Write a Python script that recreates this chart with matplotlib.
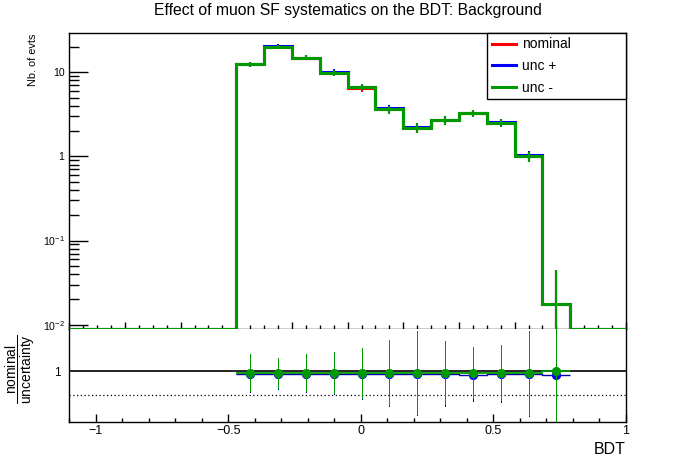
"""Effect of muon SF systematics on the BDT (background), ROOT-like ratio plot."""
import numpy as np
import matplotlib
matplotlib.use('Agg')
import matplotlib.pyplot as plt
from matplotlib.lines import Line2D
from matplotlib.ticker import FixedLocator, NullFormatter, FuncFormatter

plt.rcParams.update({'font.family': ['Liberation Sans', 'DejaVu Sans'],
                     'mathtext.fontset': 'custom',
                     'mathtext.rm': 'Liberation Sans',
                     'mathtext.it': 'Liberation Sans:italic',
                     'axes.linewidth': 1.0})

# binning: 20 bins on [-1.1, 1.0]
bin_lo, bin_hi, n_bins = -1.1, 1.0, 20

# upper panel: event yields per bin
nominal = [0, 0, 0, 0, 0, 0, 12.4, 20.2, 14.9, 9.9, 6.45, 3.62,
           2.19, 2.68, 3.25, 2.51, 1.00, 0.0175, 0, 0]
unc_up = [0, 0, 0, 0, 0, 0, 12.5, 20.5, 15.0, 10.2, 6.7, 3.72,
          2.22, 2.72, 3.28, 2.54, 1.03, 0.0178, 0, 0]
unc_down = [0, 0, 0, 0, 0, 0, 12.4, 20.2, 14.9, 9.9, 6.7, 3.62,
            2.19, 2.68, 3.25, 2.51, 1.00, 0.0175, 0, 0]
stat_err = [0, 0, 0, 0, 0, 0, 0.9, 1.1, 1.0, 0.75, 0.55, 0.38,
            0.30, 0.33, 0.33, 0.26, 0.14, 0.027, 0, 0]

# lower panel: nominal / uncertainty for the 12 filled bins (bins 6..17)
first_bin, last_bin = 6, 17
ratio_up = [0.93, 0.93, 0.93, 0.93, 0.93, 0.93, 0.93, 0.93, 0.91, 0.93, 0.93, 0.91]
ratio_down = [0.965, 0.965, 0.965, 0.965, 0.965, 0.965, 0.965, 0.965, 0.965, 0.965, 0.965, 1.0]
ratio_up_err = [0.37, 0.30, 0.37, 0.41, 0.50, 0.66, 0.84, 0.64, 0.52, 0.56, 0.85, 2.0]
ratio_down_err = [0.38, 0.31, 0.38, 0.42, 0.51, 0.67, 0.85, 0.65, 0.53, 0.57, 0.86, 2.0]

RED, BLUE, GREEN = '#ff0000', '#0000ff', '#009a00'

edges = np.linspace(bin_lo, bin_hi, n_bins + 1)
centers = 0.5 * (edges[:-1] + edges[1:])
YMIN, YMAX = 0.00882, 29.1

W, H = 696, 472
fig = plt.figure(figsize=(W / 100, H / 100), dpi=100)
ax = fig.add_axes([69.3 / W, 1 - 329.3 / H, (626 - 69.3) / W, (329.3 - 33.3) / H])
axr = fig.add_axes([69.3 / W, 1 - 422 / H, (626 - 69.3) / W, (422 - 329.3) / H])

# ---- upper panel
for z, (vals, col) in enumerate([(nominal, RED), (unc_up, BLUE), (unc_down, GREEN)]):
    v = np.array(vals, dtype=float)
    e = np.array(stat_err, dtype=float)
    ax.stairs(np.where(v > 0, v, YMIN), edges, baseline=None, color=col,
              linewidth=2.2, zorder=3 + 2 * z)
    m = v > 0
    ax.vlines(centers[m], np.maximum(v[m] - e[m], YMIN * 0.5), v[m] + e[m],
              color=col, linewidth=1.5, zorder=4 + 2 * z)

ax.set_yscale('log')
ax.set_xlim(bin_lo, bin_hi)
ax.set_ylim(YMIN, YMAX)
ax.xaxis.set_major_locator(FixedLocator(np.arange(bin_lo, bin_hi + 1e-9, 0.21)))
ax.xaxis.set_minor_locator(FixedLocator(np.arange(bin_lo, bin_hi + 1e-9, 0.0525)))
ax.xaxis.set_major_formatter(NullFormatter())
ax.tick_params(axis='x', which='major', direction='in', length=5, width=1)
ax.tick_params(axis='x', which='minor', direction='in', length=2.9, width=1)


def log_label(y, pos):
    if y == 10:
        return '10'
    if y == 1:
        return '1'
    return r'$\mathregular{10^{%d}}$' % round(np.log10(y))


ax.yaxis.set_major_locator(FixedLocator([0.01, 0.1, 1, 10]))
ax.yaxis.set_major_formatter(FuncFormatter(log_label))
ax.yaxis.set_minor_formatter(NullFormatter())
ax.tick_params(axis='y', which='major', direction='in', length=13.7, width=1,
               labelsize=7.6, pad=3.5)
ax.tick_params(axis='y', which='minor', direction='in', length=7.2, width=1)

handles = [Line2D([], [], color=c, lw=2.2) for c in (RED, BLUE, GREEN)]
leg = ax.legend(handles, ['nominal', 'unc +', 'unc -'], loc='upper left',
                bbox_to_anchor=(0.751, 0, 0.249, 1), mode='expand',
                borderaxespad=0, fancybox=False, edgecolor='black', framealpha=1,
                fontsize=10, handlelength=1.75, handletextpad=0.45,
                labelspacing=0.55, borderpad=0.3)
leg.get_frame().set_linewidth(1.0)
leg.set_zorder(10)

# ---- lower panel
axr.axhline(1.0, color='black', lw=1.2, zorder=1)
axr.axhline(0.5, color='black', lw=0.9, linestyle=(0, (1, 2)), zorder=1)
r_edges = edges[first_bin:last_bin + 2]
r_cent = centers[first_bin:last_bin + 1]
for z, (vals, errs, col, lcol, lw) in enumerate([
        (ratio_up, ratio_up_err, BLUE, '#0000aa', 1.0),
        (ratio_down, ratio_down_err, GREEN, GREEN, 1.3)]):
    v = np.array(vals)
    e = np.array(errs)
    base = 2 + 3 * z
    axr.stairs(v, r_edges, baseline=None, color=lcol, lw=lw, zorder=base)
    axr.vlines(r_cent, v - e, v + e, color=lcol, linewidth=0.72,
               antialiased=False, zorder=base + 1)
    axr.plot(r_cent, v, 'o', color=col, ms=5.6, mec=col, zorder=base + 2)

axr.set_xlim(bin_lo, bin_hi)
axr.set_ylim(-0.049, 1.858)
axr.xaxis.set_major_locator(FixedLocator([-1, -0.5, 0, 0.5, 1]))
axr.xaxis.set_minor_locator(FixedLocator(np.arange(-1.1, 1.0 + 1e-9, 0.1)))
axr.set_xticklabels(['\u22121', '\u22120.5', '0', '0.5', '1'])
axr.tick_params(axis='x', which='major', direction='in', length=5.8, width=1,
                labelsize=9, pad=2)
axr.tick_params(axis='x', which='minor', direction='in', length=2.9, width=1)
axr.yaxis.set_major_locator(FixedLocator([1]))
axr.yaxis.set_minor_locator(FixedLocator([]))
axr.tick_params(axis='y', which='major', length=0, labelsize=8.5, pad=6.5)
axr.spines['top'].set_visible(False)

# ---- texts
fig.text(0.5, 1 - 11 / H, 'Effect of muon SF systematics on the BDT: Background',
         ha='center', va='center', fontsize=11.3)
fig.text(32.5 / W, 1 - 33.3 / H, 'Nb. of evts', rotation=90, ha='center', va='top',
         fontsize=7.8)
fig.text(20 / W, 1 - 369 / H, r'$\dfrac{\mathrm{nominal}}{\mathrm{uncertainty}}$',
         rotation=90, ha='center', va='center', fontsize=10)
fig.text(626 / W, 1 - 450 / H, 'BDT', ha='right', va='center', fontsize=11.5)

fig.savefig('out.png', dpi=100)
